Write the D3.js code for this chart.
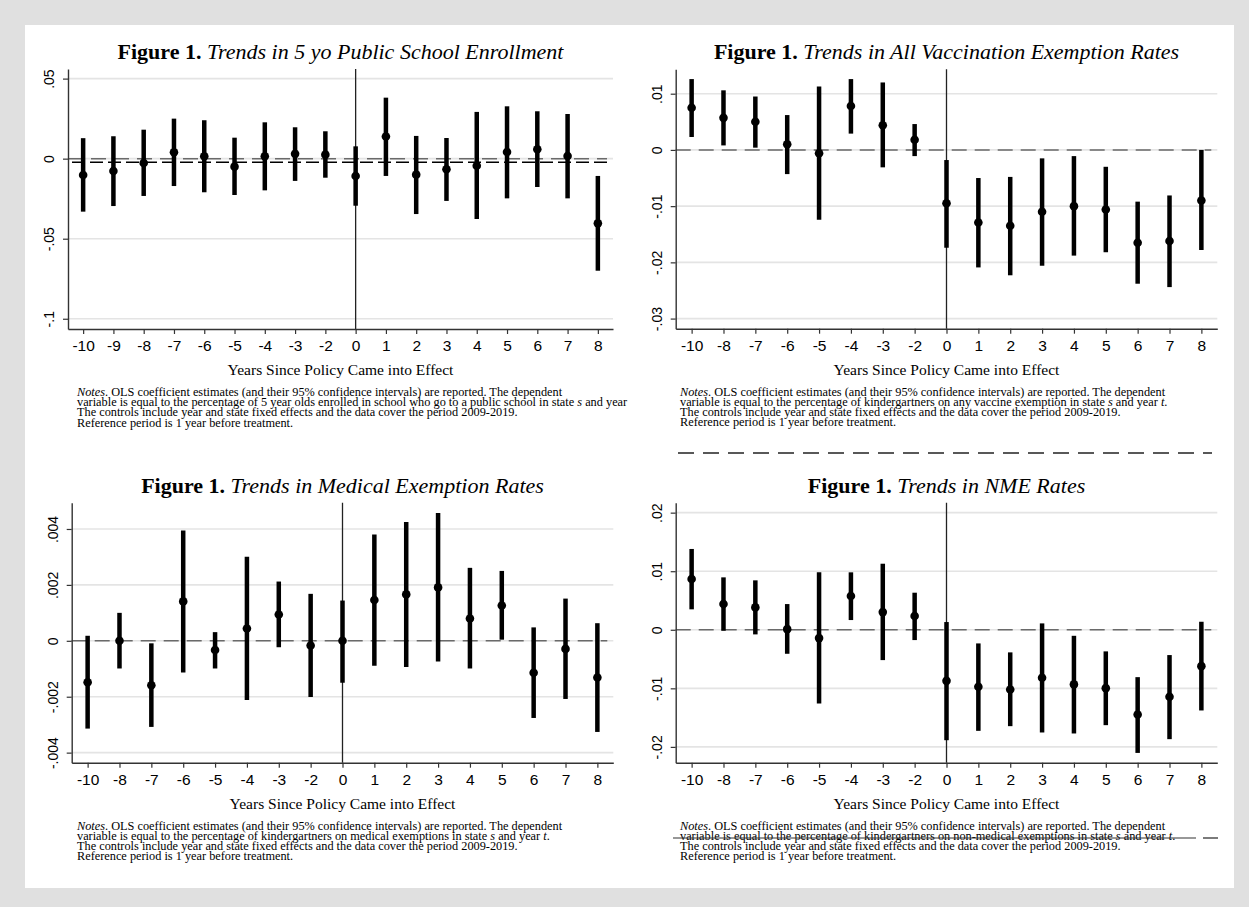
<!DOCTYPE html>
<html>
<head>
<meta charset="utf-8">
<script src="https://cdn.jsdelivr.net/npm/d3@7"></script>
<style>
  body { margin: 0; background: #e0e0e0; }
  svg { display: block; }
</style>
</head>
<body>
<div id="chart"></div>
<script>
// ---- data ----
const yearsFull = ["-10","-9","-8","-7","-6","-5","-4","-3","-2","0","1","2","3","4","5","6","7","8"];
const yearsShort = ["-10","-8","-7","-6","-5","-4","-3","-2","0","1","2","3","4","5","6","7","8"];

// 5 yo public school enrollment
const enrollCoef = [-0.0102,-0.0077,-0.0027,0.0040,0.0015,-0.0050,0.0015,0.0030,0.0025,-0.0108,0.0138,-0.0100,-0.0066,-0.0044,0.0042,0.0059,0.0017,-0.0404];
const enrollHi   = [0.0128,0.0140,0.0181,0.0250,0.0240,0.0131,0.0227,0.0196,0.0171,0.0077,0.0381,0.0142,0.0129,0.0292,0.0327,0.0296,0.0279,-0.0108];
const enrollLo   = [-0.0331,-0.0296,-0.0233,-0.0171,-0.0210,-0.0227,-0.0198,-0.0139,-0.0119,-0.0294,-0.0108,-0.0346,-0.0264,-0.0377,-0.0248,-0.0177,-0.0248,-0.0700];
const enrollTicks = [0.05, 0, -0.05, -0.1];
const enrollTickLabels = [".05", "0", "-.05", "-.1"];

// all vaccination exemptions
const allCoef = [0.0075,0.0057,0.0050,0.0010,-0.0006,0.0078,0.0044,0.0018,-0.0095,-0.0129,-0.0135,-0.0110,-0.0100,-0.0106,-0.0165,-0.0162,-0.0090];
const allHi   = [0.0126,0.0106,0.0095,0.0062,0.0113,0.0126,0.0120,0.0046,-0.0018,-0.0050,-0.0048,-0.0015,-0.0011,-0.0030,-0.0092,-0.0081,0.0000];
const allLo   = [0.0023,0.0008,0.0004,-0.0043,-0.0124,0.0029,-0.0031,-0.0011,-0.0174,-0.0209,-0.0223,-0.0206,-0.0188,-0.0182,-0.0238,-0.0244,-0.0178];
const allTicks = [0.01, 0, -0.01, -0.02, -0.03];
const allTickLabels = [".01", "0", "-.01", "-.02", "-.03"];

// medical exemptions
const medCoef = [-0.00148,0.00000,-0.00159,0.00141,-0.00033,0.00044,0.00094,-0.00017,0.00000,0.00146,0.00166,0.00191,0.00080,0.00126,-0.00114,-0.00029,-0.00131];
const medHi   = [0.00018,0.00100,-0.00009,0.00395,0.00031,0.00301,0.00212,0.00168,0.00144,0.00380,0.00425,0.00457,0.00261,0.00250,0.00048,0.00151,0.00063];
const medLo   = [-0.00314,-0.00099,-0.00308,-0.00113,-0.00099,-0.00212,-0.00023,-0.00201,-0.00150,-0.00089,-0.00094,-0.00074,-0.00099,0.00004,-0.00276,-0.00208,-0.00326];
const medTicks = [0.004, 0.002, 0, -0.002, -0.004];
const medTickLabels = [".004", ".002", "0", "-.002", "-.004"];

// non-medical exemptions
const nmeCoef = [0.00867,0.00439,0.00382,0.00011,-0.00142,0.00576,0.00302,0.00234,-0.00872,-0.00974,-0.01019,-0.00820,-0.00933,-0.00997,-0.01446,-0.01145,-0.00621];
const nmeHi   = [0.01380,0.00895,0.00844,0.00439,0.00981,0.00981,0.01128,0.00633,0.00132,-0.00233,-0.00386,0.00109,-0.00103,-0.00369,-0.00809,-0.00432,0.00137];
const nmeLo   = [0.00349,-0.00017,-0.00079,-0.00410,-0.01259,0.00166,-0.00518,-0.00176,-0.01886,-0.01726,-0.01646,-0.01754,-0.01771,-0.01629,-0.02103,-0.01868,-0.01378];
const nmeTicks = [0.02, 0.01, 0, -0.01, -0.02];
const nmeTickLabels = [".02", ".01", "0", "-.01", "-.02"];

const xTitle = "Years Since Policy Came into Effect";
const notesHead = "Notes";
const notesRest = ". OLS coefficient estimates (and their 95% confidence intervals) are reported. The dependent";
const notesLine3 = "The controls include year and state fixed effects and the data cover the period 2009-2019.";
const notesLine4 = "Reference period is 1 year before treatment.";

// ---- layout ----
const W = 1249, H = 907;
const serif = "'Liberation Serif', 'Times New Roman', Times, serif";
const sans = "'Liberation Sans', Arial, Helvetica, sans-serif";

const panels = [
  { title: "Trends in 5 yo Public School Enrollment", cats: yearsFull,
    coef: enrollCoef, lo: enrollLo, hi: enrollHi, ticks: enrollTicks, labels: enrollTickLabels,
    domain: [-0.1064, 0.056], x0: 68, x1: 613, y0: 69, y1: 329, titleY: 59,
    notesX: 77, clip: 629, extraDash: -0.00225,
    varText: "variable is equal to the percentage of 5 year olds enrolled in school who go to a public school in state " },
  { title: "Trends in All Vaccination Exemption Rates", cats: yearsShort,
    coef: allCoef, lo: allLo, hi: allHi, ticks: allTicks, labels: allTickLabels,
    domain: [-0.0318, 0.01434], x0: 675.7, x1: 1217.3, y0: 69.3, y1: 328.7, titleY: 59,
    notesX: 680,
    varText: "variable is equal to the percentage of kindergartners on any vaccine exemption in state " },
  { title: "Trends in Medical Exemption Rates", cats: yearsShort,
    coef: medCoef, lo: medLo, hi: medHi, ticks: medTicks, labels: medTickLabels,
    domain: [-0.00436, 0.00494], x0: 71.7, x1: 613.3, y0: 502.7, y1: 762.7, titleY: 493,
    notesX: 77,
    varText: "variable is equal to the percentage of kindergartners on medical exemptions in state " },
  { title: "Trends in NME Rates", cats: yearsShort,
    coef: nmeCoef, lo: nmeLo, hi: nmeHi, ticks: nmeTicks, labels: nmeTickLabels,
    domain: [-0.0227, 0.0217], x0: 675.7, x1: 1217.3, y0: 502.7, y1: 762.7, titleY: 493,
    notesX: 680,
    varText: "variable is equal to the percentage of kindergartners on non-medical exemptions in state " }
];

const svg = d3.select("#chart").append("svg")
  .attr("width", W).attr("height", H)
  .attr("viewBox", `0 0 ${W} ${H}`);

// page
svg.append("rect").attr("width", W).attr("height", H).attr("fill", "#e0e0e0");
svg.append("rect").attr("x", 25).attr("y", 25).attr("width", 1209).attr("height", 863).attr("fill", "#fff");

const defs = svg.append("defs");

panels.forEach((p, i) => drawPanel(p, i));

// stray dashed rules from the scanned page
svg.append("line")
  .attr("x1", 678).attr("x2", 1212).attr("y1", 453).attr("y2", 453)
  .attr("stroke", "#222").attr("stroke-width", 1.5).attr("stroke-dasharray", "16,9");
svg.append("line")
  .attr("x1", 673).attr("x2", 1196).attr("y1", 838).attr("y2", 838)
  .attr("stroke", "#333").attr("stroke-width", 1.1);
svg.append("line")
  .attr("x1", 1203).attr("x2", 1218).attr("y1", 838).attr("y2", 838)
  .attr("stroke", "#333").attr("stroke-width", 1.3);

function drawPanel(p, i) {
  const x = d3.scalePoint().domain(p.cats).range([p.x0, p.x1]).padding(0.5);
  const y = d3.scaleLinear().domain(p.domain).range([p.y1, p.y0]);
  const rows = p.cats.map((c, k) => ({ cat: c, coef: p.coef[k], lo: p.lo[k], hi: p.hi[k] }));
  const cx = (p.x0 + p.x1) / 2;

  const g = svg.append("g");

  // gridlines
  g.append("g").selectAll("line").data(p.ticks).join("line")
    .attr("x1", p.x0).attr("x2", p.x1)
    .attr("y1", d => y(d)).attr("y2", d => y(d))
    .attr("stroke", "#e4e4e4").attr("stroke-width", 1.6);

  // zero reference
  g.append("line")
    .attr("x1", p.x0).attr("x2", p.x1 - 6)
    .attr("y1", y(0)).attr("y2", y(0))
    .attr("stroke", "#6a6a6a").attr("stroke-width", 1.5)
    .attr("stroke-dasharray", "15,8");

  if (p.extraDash !== undefined) {
    g.append("line")
      .attr("x1", p.x0 + 4).attr("x2", p.x1 - 6)
      .attr("y1", y(p.extraDash)).attr("y2", y(p.extraDash))
      .attr("stroke", "#000").attr("stroke-width", 1.4)
      .attr("stroke-dasharray", "13,5");
  }

  // policy year
  g.append("line")
    .attr("x1", x("0")).attr("x2", x("0"))
    .attr("y1", p.y0).attr("y2", p.y1)
    .attr("stroke", "#222").attr("stroke-width", 1.3);

  // confidence intervals
  g.append("g").selectAll("line").data(rows).join("line")
    .attr("x1", d => x(d.cat)).attr("x2", d => x(d.cat))
    .attr("y1", d => y(d.lo)).attr("y2", d => y(d.hi))
    .attr("stroke", "#000").attr("stroke-width", 4.5);

  g.append("g").selectAll("circle").data(rows).join("circle")
    .attr("cx", d => x(d.cat)).attr("cy", d => y(d.coef))
    .attr("r", 4.3).attr("fill", "#000");

  // axes
  const yAxis = g.append("g")
    .attr("transform", `translate(${p.x0},0)`)
    .call(d3.axisLeft(y).tickValues(p.ticks).tickFormat((d, k) => p.labels[k]).tickSize(5).tickSizeOuter(0));
  yAxis.select(".domain").attr("stroke", "#333").attr("stroke-width", 1.4);
  yAxis.selectAll(".tick line").attr("stroke", "#333").attr("stroke-width", 1.2);
  yAxis.selectAll(".tick text")
    .attr("x", null).attr("dy", null)
    .attr("transform", "translate(-14,0) rotate(-90)")
    .attr("text-anchor", "middle")
    .attr("font-family", sans).attr("font-size", 14).attr("fill", "#000");

  const xAxis = g.append("g")
    .attr("transform", `translate(0,${p.y1})`)
    .call(d3.axisBottom(x).tickSize(5).tickSizeOuter(0).tickPadding(6));
  xAxis.select(".domain").attr("stroke", "#333").attr("stroke-width", 1.4);
  xAxis.selectAll(".tick line").attr("stroke", "#333").attr("stroke-width", 1.2);
  xAxis.selectAll(".tick text")
    .attr("font-family", sans).attr("font-size", 15.5).attr("fill", "#000");

  // title
  const t = g.append("text")
    .attr("x", cx).attr("y", p.titleY)
    .attr("text-anchor", "middle")
    .attr("font-family", serif).attr("font-size", 22).attr("fill", "#000");
  t.append("tspan").attr("font-weight", "bold").text("Figure 1.");
  t.append("tspan").attr("font-style", "italic").text(" " + p.title);

  // x axis title
  g.append("text")
    .attr("x", cx).attr("y", p.y1 + 46)
    .attr("text-anchor", "middle")
    .attr("font-family", serif).attr("font-size", 15.5).attr("fill", "#000")
    .text(xTitle);

  // notes
  const notes = g.append("g")
    .attr("font-family", serif).attr("font-size", 12.3).attr("fill", "#000");
  if (p.clip) {
    const id = "clip" + i;
    defs.append("clipPath").attr("id", id)
      .append("rect").attr("x", 0).attr("y", p.y1).attr("width", p.clip).attr("height", 120);
    notes.attr("clip-path", `url(#${id})`);
  }
  const nb = p.y1 + 67;
  const step = 10.2;
  const l1 = notes.append("text").attr("x", p.notesX).attr("y", nb);
  l1.append("tspan").attr("font-style", "italic").text(notesHead);
  l1.append("tspan").text(notesRest);
  const l2 = notes.append("text").attr("x", p.notesX).attr("y", nb + step);
  l2.append("tspan").text(p.varText);
  l2.append("tspan").attr("font-style", "italic").text("s");
  l2.append("tspan").text(" and year ");
  l2.append("tspan").attr("font-style", "italic").text("t");
  l2.append("tspan").text(".");
  notes.append("text").attr("x", p.notesX).attr("y", nb + 2 * step).text(notesLine3);
  notes.append("text").attr("x", p.notesX).attr("y", nb + 3 * step).text(notesLine4);
}
</script>
</body>
</html>
